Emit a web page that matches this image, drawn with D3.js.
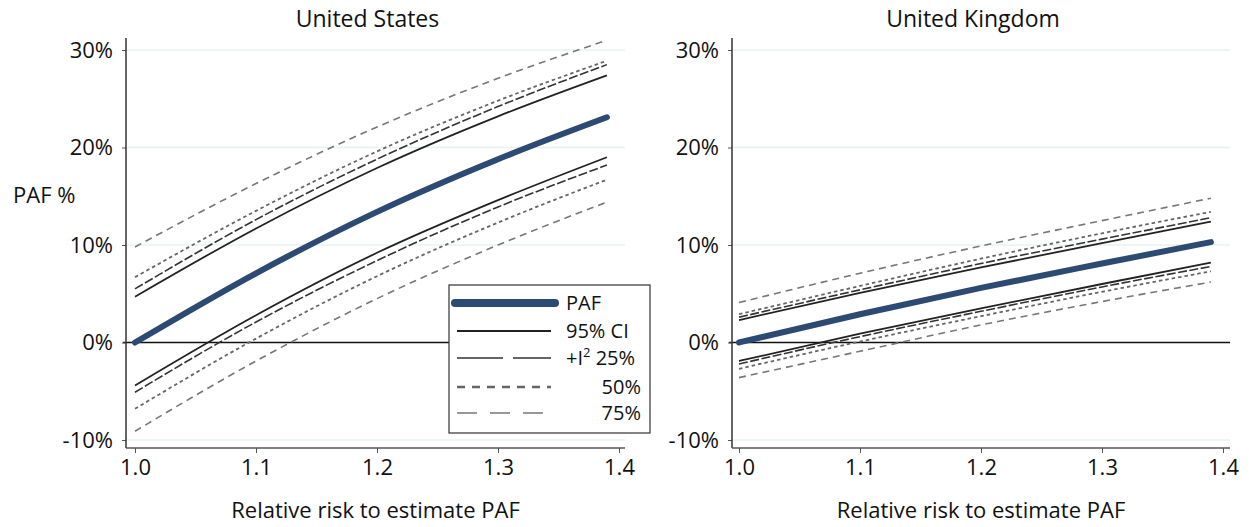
<!DOCTYPE html>
<html>
<head>
<meta charset="utf-8">
<script src="https://cdn.jsdelivr.net/npm/d3@7"></script>
<style>
  body { margin: 0; background: #fff; }
  text { font-family: "Open Sans", sans-serif; fill: #111; }
</style>
</head>
<body>
<svg id="chart" width="1249" height="527"></svg>
<script>
// relative risk values where lines were read
const rr = [1.0, 1.1, 1.2, 1.3, 1.39];

// United States (PAF as fraction)
const usPAF     = [0.000, 0.071, 0.134, 0.188, 0.231];
const usCIHi    = [0.047, 0.117, 0.179, 0.232, 0.274];
const usCILo    = [-0.044, 0.028, 0.092, 0.146, 0.190];
const usI25Hi   = [0.055, 0.126, 0.188, 0.242, 0.285];
const usI25Lo   = [-0.051, 0.021, 0.084, 0.139, 0.182];
const usI50Hi   = [0.067, 0.135, 0.196, 0.248, 0.289];
const usI50Lo   = [-0.068, 0.004, 0.068, 0.123, 0.167];
const usI75Hi   = [0.098, 0.163, 0.221, 0.271, 0.310];
const usI75Lo   = [-0.091, -0.019, 0.045, 0.100, 0.144];

// United Kingdom
const ukPAF     = [0.000, 0.029, 0.056, 0.081, 0.103];
const ukCIHi    = [0.023, 0.051, 0.077, 0.102, 0.124];
const ukCILo    = [-0.019, 0.009, 0.035, 0.060, 0.082];
const ukI25Hi   = [0.026, 0.054, 0.081, 0.106, 0.128];
const ukI25Lo   = [-0.022, 0.006, 0.032, 0.057, 0.078];
const ukI50Hi   = [0.029, 0.058, 0.086, 0.112, 0.134];
const ukI50Lo   = [-0.027, 0.001, 0.027, 0.052, 0.073];
const ukI75Hi   = [0.041, 0.071, 0.099, 0.125, 0.148];
const ukI75Lo   = [-0.036, -0.009, 0.018, 0.042, 0.062];

const xTicks = [1.0, 1.1, 1.2, 1.3, 1.4];
const yTicks = [-0.1, 0, 0.1, 0.2, 0.3];

const legendLabels = ["PAF", "95% CI", "25%", "50%", "75%"];

// line styles
const styles = {
  paf: { stroke: "#2c4a72", width: 6, dash: null, legendDash: null, legendWidth: 8 },
  ci:  { stroke: "#222", width: 1.8, dash: null, legendDash: null, legendWidth: 2.2 },
  i25: { stroke: "#333", width: 1.6, dash: "9,2.5", legendDash: "46,10", legendWidth: 1.6 },
  i50: { stroke: "#666", width: 1.8, dash: "3.5,3", legendDash: "8,7", legendWidth: 2.6 },
  i75: { stroke: "#777", width: 1.6, dash: "7,5", legendDash: "20,13", legendWidth: 1.6 }
};

const panels = [
  { title: "United States", axisX: 126, axisEnd: 625, x0: 135, x1: 619,
    series: [
      ["i75", usI75Hi], ["i75", usI75Lo], ["i50", usI50Hi], ["i50", usI50Lo],
      ["i25", usI25Hi], ["i25", usI25Lo], ["ci", usCIHi], ["ci", usCILo], ["paf", usPAF]
    ], legend: true, ylabel: true },
  { title: "United Kingdom", axisX: 732, axisEnd: 1230, x0: 739, x1: 1223,
    series: [
      ["i75", ukI75Hi], ["i75", ukI75Lo], ["i50", ukI50Hi], ["i50", ukI50Lo],
      ["i25", ukI25Hi], ["i25", ukI25Lo], ["ci", ukCIHi], ["ci", ukCILo], ["paf", ukPAF]
    ], legend: false, ylabel: false }
];

const svg = d3.select("#chart");
const yScale = d3.scaleLinear().domain([-0.1, 0.3]).range([440, 50]);
const axisTop = 38, axisBottom = 448;

panels.forEach(p => {
  const xScale = d3.scaleLinear().domain([1.0, 1.4]).range([p.x0, p.x1]);
  const g = svg.append("g");

  // light gridlines
  g.selectAll("line.grid")
    .data(yTicks.filter(d => d !== 0))
    .enter().append("line")
    .attr("x1", p.axisX).attr("x2", p.axisEnd)
    .attr("y1", d => yScale(d)).attr("y2", d => yScale(d))
    .attr("stroke", "#eaf0f0").attr("stroke-width", 1.5);

  // zero line
  g.append("line")
    .attr("x1", p.axisX - 3).attr("x2", p.axisEnd)
    .attr("y1", yScale(0)).attr("y2", yScale(0))
    .attr("stroke", "#111").attr("stroke-width", 1.3);

  // series
  const line = d3.line()
    .x((d, i) => xScale(rr[i]))
    .y(d => yScale(d))
    .curve(d3.curveMonotoneX);

  p.series.forEach(([key, vals]) => {
    const s = styles[key];
    g.append("path")
      .datum(vals)
      .attr("d", line)
      .attr("fill", "none")
      .attr("stroke", s.stroke)
      .attr("stroke-width", s.width)
      .attr("stroke-linecap", key === "paf" ? "round" : "butt")
      .attr("stroke-dasharray", s.dash);
  });

  // y axis
  const yAxis = d3.axisLeft(yScale)
    .tickValues(yTicks)
    .tickSize(4)
    .tickPadding(9)
    .tickFormat(d => Math.round(d * 100) + "%");
  const ya = g.append("g").attr("transform", `translate(${p.axisX},0)`).call(yAxis);
  ya.select(".domain").remove();
  ya.append("line").attr("y1", axisTop).attr("y2", axisBottom)
    .attr("stroke", "#333").attr("stroke-width", 1.5);
  ya.selectAll(".tick line").attr("stroke", "#555");
  ya.selectAll("text").style("font-size", "22px").attr("fill", "#111");

  // x axis
  const xAxis = d3.axisBottom(xScale)
    .tickValues(xTicks)
    .tickSize(5)
    .tickPadding(6)
    .tickFormat(d3.format(".1f"));
  const xa = g.append("g").attr("transform", `translate(0,${axisBottom})`).call(xAxis);
  xa.select(".domain").remove();
  xa.append("line").attr("x1", p.axisX).attr("x2", p.axisEnd)
    .attr("stroke", "#555").attr("stroke-width", 1.5);
  xa.selectAll(".tick line").attr("stroke", "#555");
  xa.selectAll("text").style("font-size", "22px").attr("fill", "#111");

  // panel title
  g.append("text")
    .attr("x", (p.axisX + p.axisEnd) / 2 - 8)
    .attr("y", 27)
    .attr("text-anchor", "middle")
    .style("font-size", "23px")
    .text(p.title);

  // x axis title
  g.append("text")
    .attr("x", (p.axisX + p.axisEnd) / 2)
    .attr("y", 518)
    .attr("text-anchor", "middle")
    .style("font-size", "22px")
    .text("Relative risk to estimate PAF");

  if (p.ylabel) {
    g.append("text")
      .attr("x", 13).attr("y", 203)
      .style("font-size", "22px")
      .text("PAF %");
  }

  if (p.legend) {
    const lg = g.append("g");
    lg.append("rect")
      .attr("x", 449).attr("y", 285).attr("width", 201).attr("height", 148)
      .attr("fill", "#fff").attr("stroke", "#333").attr("stroke-width", 1.2);
    const keys = ["paf", "ci", "i25", "i50", "i75"];
    const rowY = [303, 331, 358, 387, 413];
    keys.forEach((k, i) => {
      const s = styles[k];
      lg.append("line")
        .attr("x1", k === "paf" ? 455 : 457).attr("x2", k === "paf" ? 555 : 551)
        .attr("y1", rowY[i]).attr("y2", rowY[i])
        .attr("stroke", s.stroke)
        .attr("stroke-width", s.legendWidth)
        .attr("stroke-linecap", k === "paf" ? "round" : "butt")
        .attr("stroke-dasharray", s.legendDash);
    });
    const tx = lg.selectAll("text.leg")
      .data(legendLabels)
      .enter().append("text")
      .attr("class", "leg")
      .attr("x", (d, i) => i < 3 ? 566 : 641)
      .attr("y", (d, i) => rowY[i] + 7)
      .attr("text-anchor", (d, i) => i < 3 ? "start" : "end")
      .style("font-size", "20px");
    tx.each(function(d, i) {
      const t = d3.select(this);
      if (i === 2) {
        t.append("tspan").text("+I");
        t.append("tspan").attr("dy", -8).style("font-size", "13px").text("2");
        t.append("tspan").attr("dy", 8).text(" " + d);
      } else {
        t.text(d);
      }
    });
  }
});
</script>
</body>
</html>
